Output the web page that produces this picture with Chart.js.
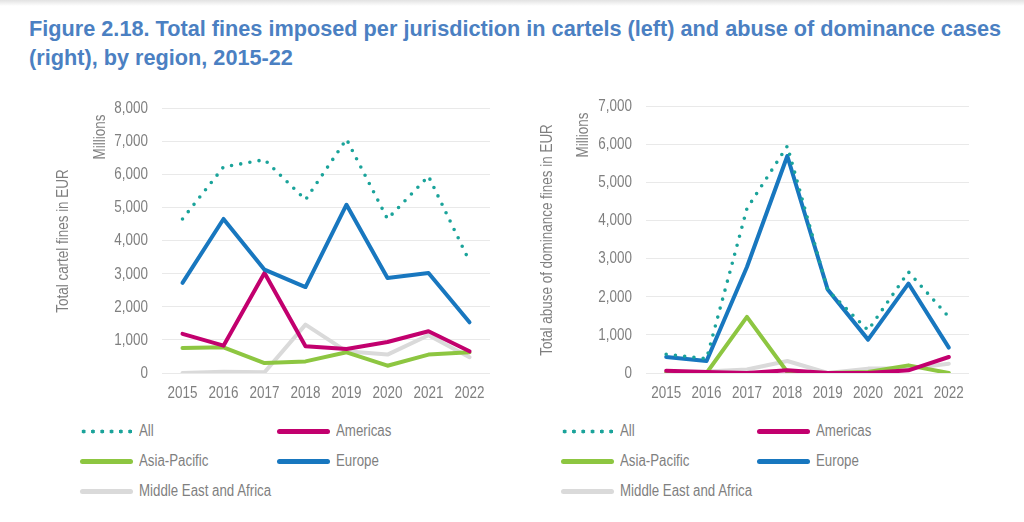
<!DOCTYPE html>
<html>
<head>
<meta charset="utf-8">
<script src="https://cdn.jsdelivr.net/npm/chart.js@4"></script>
<style>
  html, body { margin:0; padding:0; background:#fff; }
  body { width:1024px; height:522px; position:relative; overflow:hidden;
         font-family:"Liberation Sans",Arial,sans-serif; }
  #shadow { position:absolute; left:0; top:0; width:1024px; height:6px;
            background:linear-gradient(#e2e2e2,#ffffff); }
  #title { position:absolute; left:29px; top:14px; width:990px; color:#4b80c2;
           font-weight:bold; font-size:21.7px; line-height:29px; }
  canvas { position:absolute; top:0; }
  .rot { position:absolute; color:#7f7f7f; font-size:16px; white-space:nowrap;
         transform:translate(-50%,-50%) rotate(-90deg) scaleX(0.84); }
  .leg { position:absolute; color:#7f7f7f; font-size:16px; white-space:nowrap; line-height:18px;
         transform-origin:0 50%; transform:scaleX(0.83); }
  .sw { position:absolute; width:53px; height:5px; border-radius:3px; }
  .dots { position:absolute; width:56px; height:5px;
          background:radial-gradient(circle, #1aa39a 1.8px, transparent 2.2px) repeat-x;
          background-size:9.3px 5px; background-position:0 0; }
</style>
</head>
<body>
<div id="shadow"></div>
<div id="title">Figure 2.18. Total fines imposed per jurisdiction in cartels (left) and abuse of dominance cases (right), by region, 2015-22</div>
<canvas id="c1" width="512" height="420" style="left:0;width:512px;height:420px"></canvas>
<canvas id="c2" width="512" height="420" style="left:512px;width:512px;height:420px"></canvas>

<div class="rot" style="left:63px;top:241px">Total cartel fines in EUR</div>
<div class="rot" style="left:100px;top:137px">Millions</div>
<div class="rot" style="left:547px;top:240px">Total abuse of dominance fines in EUR</div>
<div class="rot" style="left:583px;top:135px">Millions</div>

<div id="legends"></div>

<script>
const years = ["2015","2016","2017","2018","2019","2020","2021","2022"];
const seriesNames = ["All","Americas","Asia-Pacific","Europe","Middle East and Africa"];

// Cartels (left), millions EUR
const cartelAll      = [4650, 6220, 6440, 5230, 7060, 4650, 5940, 3370];
const cartelAmericas = [1180,  825, 3020,  805,  725,  935, 1260,  655];
const cartelAsiaPac  = [ 755,  775,  300,  350,  625,  220,  555,  625];
const cartelEurope   = [2720, 4650, 3120, 2595, 5080, 2870, 3020, 1530];
const cartelMEA      = [   0,   40,   20, 1460,  655,  555, 1140,  475];

// Abuse of dominance (right), millions EUR
const abuseAll      = [ 490,  375, 4310, 5950, 2170, 1120, 2650, 1470];
const abuseAmericas = [  60,   25,    0,   70,    0,    0,   70,  420];
const abuseAsiaPac  = [   0,    0, 1470,   25,    0,   25,  200,    0];
const abuseEurope   = [ 420,  315, 2780, 5690, 2190,  875, 2345,  665];
const abuseMEA      = [  25,   40,   90,  315,    0,  115,  115,  245];

const leftTicksMax = 8000, rightTicksMax = 7000;

const colors = {
  "All": "#1aa39a",
  "Americas": "#c2006e",
  "Asia-Pacific": "#8dc641",
  "Europe": "#1877bf",
  "Middle East and Africa": "#dadada"
};

const FONT = "'Liberation Sans',Arial,sans-serif";
const NARROW = 0.84;

function makeDatasets(all, am, ap, eu, mea) {
  const base = (label, data) => ({
    label, data, borderColor: colors[label], backgroundColor: colors[label],
    borderWidth: 4, pointRadius: 0, tension: 0, fill: false,
    borderCapStyle: 'round', borderJoinStyle: 'round'
  });
  const dsAll = base("All", all);
  dsAll.borderWidth = 3.6;
  dsAll.borderDash = [0, 9.3];
  return [
    Object.assign(base("Middle East and Africa", mea), {order: 5}),
    Object.assign(base("Asia-Pacific", ap), {order: 4}),
    Object.assign(base("Americas", am), {order: 3}),
    Object.assign(base("Europe", eu), {order: 2}),
    Object.assign(dsAll, {order: 1})
  ];
}

// draws the library's own tick labels in a condensed style
const narrowTicks = {
  id: 'narrowTicks',
  afterDraw(chart) {
    const ctx = chart.ctx, xs = chart.scales.x, ys = chart.scales.y, area = chart.chartArea;
    ctx.save();
    ctx.fillStyle = '#7f7f7f';
    ctx.font = '16px ' + FONT;
    ctx.textBaseline = 'middle';
    const put = (txt, x, y, align) => {
      ctx.save(); ctx.translate(x, y); ctx.scale(NARROW, 1);
      ctx.textAlign = align; ctx.fillText(txt, 0, 0); ctx.restore();
    };
    xs.ticks.forEach((t, i) => put(String(t.label), xs.getPixelForTick(i), area.bottom + 20.5, 'center'));
    ys.ticks.forEach((t, i) => put(String(t.label), area.left - 14, ys.getPixelForTick(i) + 0.5, 'right'));
    ctx.restore();
  }
};

function makeChart(id, datasets, ymax, top, yWidth, padRight) {
  return new Chart(document.getElementById(id), {
    type: 'line',
    data: { labels: years, datasets },
    options: {
      responsive: false, animation: false, devicePixelRatio: 1,
      layout: { padding: { left: 0, right: padRight, top: top, bottom: 0 } },
      plugins: { legend: { display: false }, tooltip: { enabled: false } },
      scales: {
        x: {
          offset: true,
          grid: { display: false },
          border: { display: false },
          ticks: { display: false },
          afterFit: s => { s.height = 47; }
        },
        y: {
          min: 0, max: ymax,
          grid: { color: '#e9e9e9', lineWidth: 1, drawTicks: false },
          border: { display: false },
          ticks: {
            display: false,
            stepSize: 1000,
            callback: v => v.toLocaleString('en-US')
          },
          afterFit: s => { s.width = yWidth; }
        }
      }
    },
    plugins: [narrowTicks]
  });
}

makeChart('c1', makeDatasets(cartelAll, cartelAmericas, cartelAsiaPac, cartelEurope, cartelMEA), leftTicksMax, 108, 162, 22);
makeChart('c2', makeDatasets(abuseAll, abuseAmericas, abuseAsiaPac, abuseEurope, abuseMEA), rightTicksMax, 106, 134, 55);

// HTML legends
function legend(x0, x1) {
  const rows = [[seriesNames[0], seriesNames[1]], [seriesNames[2], seriesNames[3]], [seriesNames[4]]];
  const cont = document.getElementById('legends');
  rows.forEach((row, r) => {
    const y = 431 + r * 30;
    row.forEach((name, ci) => {
      const x = ci === 0 ? x0 : x1;
      const sw = document.createElement('div');
      if (name === "All") {
        sw.className = 'dots';
        sw.style.left = (x - 1) + 'px';
      } else {
        sw.className = 'sw';
        sw.style.left = x + 'px';
        sw.style.background = colors[name];
      }
      sw.style.top = (y - 2.5) + 'px';
      cont.appendChild(sw);
      const t = document.createElement('div');
      t.className = 'leg';
      t.textContent = name;
      t.style.left = (x + 59) + 'px';
      t.style.top = (y - 9) + 'px';
      cont.appendChild(t);
    });
  });
}
legend(80, 277);
legend(561, 757);
</script>
</body>
</html>
